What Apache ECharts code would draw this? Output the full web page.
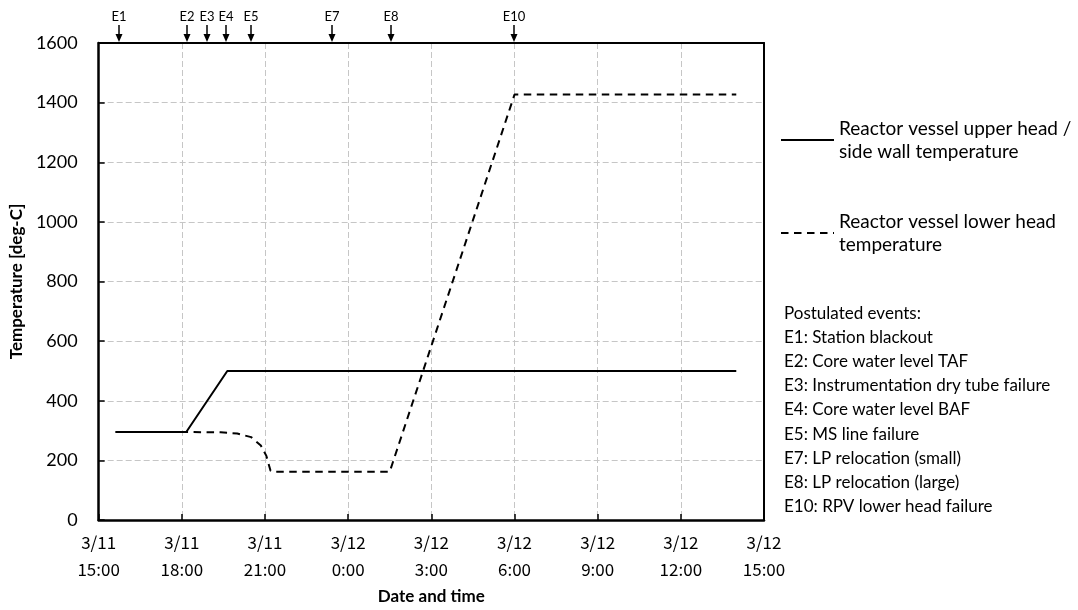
<!DOCTYPE html>
<html><head><meta charset="utf-8">
<script src="https://cdn.jsdelivr.net/npm/echarts@6/dist/echarts.min.js"></script>
<style>html,body{margin:0;padding:0;background:#fff;} #c{width:1078px;height:610px;}</style>
</head><body><div id="c"></div>
<script>
// x values: hours elapsed since 3/11 15:00
const tickDates = ['3/11', '3/11', '3/11', '3/12', '3/12', '3/12', '3/12', '3/12', '3/12'];
const tickTimes = ['15:00', '18:00', '21:00', '0:00', '3:00', '6:00', '9:00', '12:00', '15:00'];
const upperHours = [0.61, 3.16, 4.64, 23.0];
const upperTemps = [295, 295, 500, 500];
const lowerHours = [0.61, 3.2, 4.4, 5.0, 5.5, 5.85, 6.05, 6.2, 6.3, 10.5, 15.0, 23.0];
const lowerTemps = [295, 295, 294, 290, 278, 250, 215, 165, 162, 162, 1427, 1427];
const eventNames = ['E1', 'E2', 'E3', 'E4', 'E5', 'E7', 'E8', 'E10'];
const eventHours = [0.74, 3.2, 3.89, 4.6, 5.5, 8.43, 10.56, 14.97];
const eventTexts = [
  'Postulated events:',
  'E1: Station blackout',
  'E2: Core water level TAF',
  'E3: Instrumentation dry tube failure',
  'E4: Core water level BAF',
  'E5: MS line failure',
  'E7: LP relocation (small)',
  'E8: LP relocation (large)',
  'E10: RPV lower head failure'
];
const seriesNames = ['Reactor vessel upper head /\nside wall temperature', 'Reactor vessel lower head\ntemperature'];

const chart = echarts.init(document.getElementById('c'), null, {renderer: 'canvas'});
const pair = (xs, ys) => xs.map((x, i) => [x, ys[i]]);
const gridLine = {show: true, showMinLine: false, showMaxLine: false, lineStyle: {color: '#c6c6c6', width: 1, type: [6, 3]}};

chart.setOption({
  animation: false,
  backgroundColor: '#fff',
  grid: {left: 96, right: 314, top: 43, bottom: 87, show: false, containLabel: false},
  legend: {
    data: seriesNames,
    orient: 'vertical',
    left: 780, top: 105.5, padding: 0,
    itemWidth: 53, itemHeight: 14, itemGap: 24,
    itemStyle: {opacity: 0},
    textStyle: {fontFamily: 'Lato', fontSize: 19, color: '#000', lineHeight: 23, padding: [23, 0, 0, 0]},
    selectedMode: false
  },
  xAxis: [{
    type: 'value', min: 0, max: 24, interval: 3,
    name: 'Date and time', nameLocation: 'middle', nameGap: 68,
    nameTextStyle: {fontFamily: 'Lato', fontWeight: 'bold', fontSize: 17, color: '#000'},
    axisLine: {show: true, onZero: false, lineStyle: {color: '#000', width: 2.5}},
    axisTick: {show: true, inside: true, length: 6, lineStyle: {color: '#000', width: 1.5}},
    axisLabel: {
      margin: 9, fontFamily: 'Noto Sans CJK JP', fontSize: 17, color: '#000', lineHeight: 27,
      formatter: v => tickDates[Math.round(v / 3)] + '\n' + tickTimes[Math.round(v / 3)]
    },
    splitLine: gridLine
  }, {
    type: 'value', min: 0, max: 24, position: 'top',
    axisLine: {show: true, onZero: false, lineStyle: {color: '#000', width: 2}},
    axisTick: {show: false}, axisLabel: {show: false}, splitLine: {show: false}
  }],
  yAxis: [{
    type: 'value', min: 0, max: 1600, interval: 200,
    name: 'Temperature [deg-C]', nameLocation: 'middle', nameGap: 69, nameRotate: 90,
    nameTextStyle: {fontFamily: 'Lato', fontWeight: 'bold', fontSize: 17, color: '#000'},
    axisLine: {show: true, onZero: false, lineStyle: {color: '#000', width: 2.5}},
    axisTick: {show: true, inside: true, length: 6, lineStyle: {color: '#000', width: 1.5}},
    axisLabel: {margin: 21, fontFamily: 'Lato', fontSize: 18, color: '#000', formatter: v => String(v)},
    splitLine: gridLine
  }, {
    type: 'value', min: 0, max: 1600, position: 'right',
    axisLine: {show: true, onZero: false, lineStyle: {color: '#000', width: 2}},
    axisTick: {show: false}, axisLabel: {show: false}, splitLine: {show: false}
  }],
  series: [
    {
      name: seriesNames[0], type: 'line', data: pair(upperHours, upperTemps),
      showSymbol: false, symbol: 'none', itemStyle: {color: '#000', opacity: 0},
      lineStyle: {color: '#000', width: 2, type: 'solid'}
    },
    {
      name: seriesNames[1], type: 'line', data: pair(lowerHours, lowerTemps),
      showSymbol: false, symbol: 'none', itemStyle: {color: '#000', opacity: 0},
      lineStyle: {color: '#000', width: 2, type: [7.5, 5.5]}
    },
    {
      name: 'events', type: 'custom', clip: false, silent: true,
      data: eventHours.map(h => [h, 1600]),
      encode: {x: 0, y: 1},
      renderItem: (params, api) => {
        const p = api.coord([api.value(0), api.value(1)]);
        const x = Math.round(p[0]);
        const y = p[1] - 1;
        return {
          type: 'group',
          children: [
            {type: 'line', shape: {x1: x, y1: y - 17, x2: x, y2: y - 6}, style: {stroke: '#000', lineWidth: 1.5}},
            {type: 'polygon', shape: {points: [[x - 3.5, y - 8], [x + 3.5, y - 8], [x, y]]}, style: {fill: '#000'}},
            {type: 'text', x: x, y: y - 25, style: {text: eventNames[params.dataIndex], fill: '#000', font: '13px Lato', align: 'center', verticalAlign: 'middle'}}
          ]
        };
      }
    }
  ],
  graphic: [{
    type: 'text', left: 784, top: 301,
    style: {text: eventTexts.join('\n'), font: '17px Lato', lineHeight: 24.2, fill: '#000'}
  }]
});
</script></body></html>
